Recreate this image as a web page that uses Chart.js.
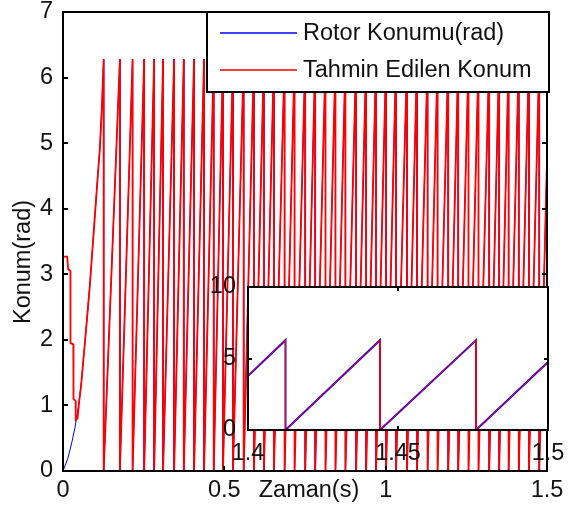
<!DOCTYPE html>
<html>
<head>
<meta charset="utf-8">
<script src="https://cdn.jsdelivr.net/npm/chart.js@4.4.1/dist/chart.umd.min.js"></script>
<style>
  html, body { margin: 0; padding: 0; background: #fff; }
  #wrap { position: relative; width: 571px; height: 509px; }
  #main { position: absolute; left: 0; top: 0; }
  #inset { position: absolute; left: 200px; top: 270px; }
</style>
</head>
<body>
<div id="wrap">
  <canvas id="main" width="571" height="509"></canvas>
  <canvas id="inset" width="371" height="210"></canvas>
</div>
<script>
// angle wraps back to 0 at 2*pi -- instants of each drop (s)
const wrapTimes = [0.126, 0.1763, 0.2156, 0.2515, 0.2824, 0.3102, 0.3443, 0.3743, 0.4061, 0.4371,
  0.4671, 0.4958, 0.5268, 0.5599, 0.5917, 0.6226, 0.6536, 0.6867, 0.7176, 0.7507,
  0.7816, 0.8135, 0.8444, 0.8753, 0.9084, 0.9394, 0.9703, 1.0012, 1.0322, 1.0662,
  1.0971, 1.1299, 1.1608, 1.1939, 1.2249, 1.2567, 1.2877, 1.3208, 1.3517, 1.381,
  1.4125, 1.444, 1.476];
const wrapTop = 6.28;
const endTime = 1.5;
const endValue = 4.75;

// start-up, before the first wrap
const rotorStartT = [0, 0.0155, 0.028, 0.037, 0.046, 0.056, 0.065, 0.074, 0.0835, 0.096, 0.107, 0.114, 0.121];
const rotorStartY = [0, 0.2, 0.45, 0.66, 0.93, 1.3, 1.8, 2.3, 2.85, 3.7, 4.45, 4.9, 5.6];
const estStartT = [0, 0.013, 0.016, 0.023, 0.0232, 0.032, 0.0325, 0.039, 0.0395, 0.045, 0.05,
  0.056, 0.065, 0.074, 0.0835, 0.096, 0.107, 0.114, 0.121];
const estStartY = [3.27, 3.27, 3.08, 3.05, 1.95, 1.93, 1.1, 1.07, 0.78, 0.8, 1.05,
  1.3, 1.8, 2.3, 2.85, 3.7, 4.45, 4.9, 5.6];

const xTicksMain = [0, 0.5, 1, 1.5];
const yTicksMain = [0, 1, 2, 3, 4, 5, 6, 7];
const xTicksInset = [1.4, 1.45, 1.5];
const yTicksInset = [0, 5, 10];

const seriesNames = ['Rotor Konumu(rad)', 'Tahmin Edilen Konum'];
const seriesColors = ['rgb(0,0,255)', 'rgb(255,0,0)'];

const FONT = "'Liberation Sans', Arial, sans-serif";
Chart.defaults.font.family = FONT;
Chart.defaults.font.size = 23.5;
Chart.defaults.color = '#111';

function sawtooth(startT, startY) {
  const pts = startT.map((t, i) => ({ x: t, y: startY[i] }));
  wrapTimes.forEach(t => {
    pts.push({ x: t, y: wrapTop });
    pts.push({ x: t, y: 0 });
  });
  pts.push({ x: endTime, y: endValue });
  return pts;
}

function datasets(wBlue, wRed) {
  return [
    { label: seriesNames[0], data: sawtooth(rotorStartT, rotorStartY), borderColor: seriesColors[0],
      borderWidth: wBlue, pointRadius: 0, tension: 0, order: 2 },
    { label: seriesNames[1], data: sawtooth(estStartT, estStartY), borderColor: seriesColors[1],
      borderWidth: wRed, pointRadius: 0, tension: 0, order: 1 }
  ];
}

function fixedTicks(list) {
  return scale => { scale.ticks = list.map(v => ({ value: v })); };
}

// pin the axis size and drop the label overhang so layout.padding alone places the plot
function fitTo(dim, size) {
  return scale => {
    scale[dim] = size;
    scale.paddingTop = scale.paddingBottom = scale.paddingLeft = scale.paddingRight = 0;
  };
}

const plainNum = v => String(v);

// box round the plot area with short inward ticks on all four sides
function framePlugin(tickLen) {
  return {
    id: 'frame',
    beforeDatasetsDraw(chart, args, opts) {
      if (!opts.fill) return;
      const a = chart.chartArea, ctx = chart.ctx;
      ctx.save();
      ctx.fillStyle = '#fff';
      ctx.fillRect(a.left, a.top, a.right - a.left, a.bottom - a.top);
      ctx.restore();
    },
    afterDatasetsDraw(chart) {
      const a = chart.chartArea, ctx = chart.ctx;
      const xs = chart.scales.x, ys = chart.scales.y;
      ctx.save();
      ctx.strokeStyle = '#000';
      ctx.lineWidth = 2;
      ctx.strokeRect(a.left, a.top, a.right - a.left, a.bottom - a.top);
      ctx.beginPath();
      xs.ticks.forEach(t => {
        const px = Math.round(xs.getPixelForValue(t.value));
        ctx.moveTo(px, a.bottom); ctx.lineTo(px, a.bottom - tickLen);
        ctx.moveTo(px, a.top); ctx.lineTo(px, a.top + tickLen);
      });
      ys.ticks.forEach(t => {
        const py = Math.round(ys.getPixelForValue(t.value));
        ctx.moveTo(a.left, py); ctx.lineTo(a.left + tickLen, py);
        ctx.moveTo(a.right, py); ctx.lineTo(a.right - tickLen, py);
      });
      ctx.stroke();
      ctx.restore();
    }
  };
}

const legendPlugin = {
  id: 'boxLegend',
  afterDraw(chart) {
    const ctx = chart.ctx;
    const left = 207, top = 12, right = 549, bottom = 92;
    ctx.save();
    ctx.fillStyle = '#fff';
    ctx.fillRect(left, top, right - left, bottom - top);
    ctx.strokeStyle = '#000';
    ctx.lineWidth = 2;
    ctx.strokeRect(left, top, right - left, bottom - top);
    ctx.font = '23.5px ' + FONT;
    ctx.textBaseline = 'middle';
    ctx.fillStyle = '#111';
    chart.data.datasets.forEach((ds, i) => {
      const y = 33 + i * 37;
      ctx.strokeStyle = ds.borderColor;
      ctx.lineWidth = 1.5;
      ctx.beginPath();
      ctx.moveTo(220, y); ctx.lineTo(297, y);
      ctx.stroke();
      ctx.fillText(ds.label, 303, y + 1);
    });
    ctx.restore();
  }
};

const axisTitles = {
  id: 'axisTitles',
  afterDraw(chart) {
    const ctx = chart.ctx, a = chart.chartArea;
    ctx.save();
    ctx.font = '23.5px ' + FONT;
    ctx.fillStyle = '#111';
    ctx.textAlign = 'center';
    ctx.textBaseline = 'middle';
    ctx.fillText('Zaman(s)', (a.left + a.right) / 2 + 4, 491);
    ctx.translate(24, 262);
    ctx.rotate(-Math.PI / 2);
    ctx.fillText('Konum(rad)', 0, 0);
    ctx.restore();
  }
};

new Chart(document.getElementById('main'), {
  type: 'line',
  data: { datasets: datasets(1, 1.8) },
  options: {
    responsive: false,
    animation: false,
    events: [],
    layout: { padding: { top: 12, right: 24, left: 0, bottom: 0 } },
    plugins: { legend: { display: false }, tooltip: { enabled: false }, frame: { fill: false } },
    scales: {
      x: {
        type: 'linear', min: 0, max: 1.5,
        afterBuildTicks: fixedTicks(xTicksMain),
        afterFit: fitTo('height', 38),
        grid: { display: false, drawTicks: false },
        border: { display: false },
        ticks: { padding: 5, maxRotation: 0, autoSkip: false, callback: plainNum }
      },
      y: {
        type: 'linear', min: 0, max: 7,
        afterBuildTicks: fixedTicks(yTicksMain),
        afterFit: fitTo('width', 63),
        grid: { display: false, drawTicks: false },
        border: { display: false },
        ticks: { padding: 10, autoSkip: false, callback: plainNum }
      }
    }
  },
  plugins: [framePlugin(5), legendPlugin, axisTitles]
});

// zoomed view of the last 0.1 s
new Chart(document.getElementById('inset'), {
  type: 'line',
  data: { datasets: datasets(2, 1) },
  options: {
    responsive: false,
    animation: false,
    events: [],
    layout: { padding: { top: 17, right: 23, left: 0, bottom: 0 } },
    plugins: { legend: { display: false }, tooltip: { enabled: false }, frame: { fill: true } },
    scales: {
      x: {
        type: 'linear', min: 1.4, max: 1.5,
        afterBuildTicks: fixedTicks(xTicksInset),
        afterFit: fitTo('height', 50),
        grid: { display: false, drawTicks: false },
        border: { display: false },
        ticks: { padding: 9, maxRotation: 0, autoSkip: false, callback: plainNum }
      },
      y: {
        type: 'linear', min: 0, max: 10,
        afterBuildTicks: fixedTicks(yTicksInset),
        afterFit: fitTo('width', 48),
        grid: { display: false, drawTicks: false },
        border: { display: false },
        ticks: { padding: 12, autoSkip: false, callback: plainNum }
      }
    }
  },
  plugins: [framePlugin(4)]
});
</script>
</body>
</html>
